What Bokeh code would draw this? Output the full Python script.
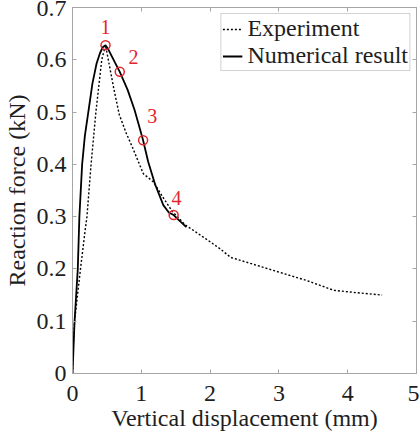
from bokeh.plotting import figure
from bokeh.models import Range1d, LinearAxis, FixedTicker
from bokeh.core.properties import value
from bokeh.embed import file_html
from bokeh.resources import INLINE

# Experiment (dotted)
exp_x = [0, 0.01, 0.03, 0.116, 0.184, 0.21, 0.27, 0.34, 0.425, 0.48, 0.60, 0.68, 0.78, 0.87, 1.03, 1.18, 1.30, 1.45, 1.64, 1.80, 2.0, 2.15, 2.3, 2.6, 3.0, 3.4, 3.8, 4.1, 4.5]
exp_y = [0, 0.05, 0.10, 0.20, 0.274, 0.30, 0.40, 0.50, 0.60, 0.628, 0.545, 0.495, 0.46, 0.433, 0.382, 0.366, 0.34, 0.31, 0.284, 0.270, 0.252, 0.238, 0.222, 0.21, 0.194, 0.178, 0.159, 0.155, 0.150]

# Numerical result (solid)
num_x = [0, 0.03, 0.077, 0.10, 0.14, 0.18, 0.23, 0.29, 0.35, 0.40, 0.44, 0.48, 0.52, 0.57, 0.62, 0.687, 0.80, 0.90, 0.96, 1.026, 1.10, 1.20, 1.32, 1.40, 1.47, 1.55, 1.655]
num_y = [0, 0.10, 0.20, 0.30, 0.40, 0.455, 0.50, 0.555, 0.593, 0.613, 0.624, 0.628, 0.620, 0.607, 0.594, 0.577, 0.543, 0.505, 0.477, 0.446, 0.405, 0.362, 0.322, 0.308, 0.303, 0.293, 0.280]

# Marked points
pt_x = [0.48, 0.687, 1.026, 1.47]
pt_y = [0.628, 0.577, 0.446, 0.303]
pt_lbl = ["1", "2", "3", "4"]
lbl_x = [0.48, 0.886, 1.16, 1.51]
lbl_y = [0.662, 0.605, 0.492, 0.336]

x_ticks = [0, 1, 2, 3, 4, 5]
y_ticks = [0, 0.1, 0.2, 0.3, 0.4, 0.5, 0.6, 0.7]
y_tick_labels = {0: "0", 0.1: "0.1", 0.2: "0.2", 0.3: "0.3", 0.4: "0.4", 0.5: "0.5", 0.6: "0.6", 0.7: "0.7"}

FONT = "Liberation Serif"
AX = "#a6a6a6"
TXT = "#1e1e1e"

p = figure(width=419, height=434, x_range=Range1d(0, 5), y_range=Range1d(0, 0.7),
           output_backend="svg", toolbar_location=None,
           min_border_left=72, min_border_right=3, min_border_top=7, min_border_bottom=61)
p.xgrid.visible = False
p.ygrid.visible = False
p.outline_line_color = AX
p.background_fill_color = "white"
p.border_fill_color = "white"

def style(ax, labels=True):
    ax.axis_line_color = AX
    ax.major_tick_line_color = AX
    ax.major_tick_in = 4
    ax.major_tick_out = 0
    ax.minor_tick_line_color = None
    if labels:
        ax.major_label_text_font = FONT
        ax.major_label_text_font_size = "24px"
        ax.major_label_text_color = TXT
        ax.axis_label_text_font = FONT
        ax.axis_label_text_font_size = "24px"
        ax.axis_label_text_font_style = "normal"
        ax.axis_label_text_color = TXT
    else:
        ax.major_label_standoff = 0

xa = p.xaxis[0]
xa.ticker = FixedTicker(ticks=x_ticks)
xa.axis_label = "Vertical displacement (mm)"
style(xa)
xa.major_label_standoff = 12
xa.axis_label_standoff = 1

ya = p.yaxis[0]
ya.ticker = FixedTicker(ticks=y_ticks)
ya.major_label_overrides = y_tick_labels
ya.axis_label = "Reaction force (kN)"
style(ya)
ya.major_label_standoff = 6
ya.axis_label_standoff = 4

top = LinearAxis(ticker=FixedTicker(ticks=x_ticks),
                 major_label_overrides={t: "" for t in x_ticks})
style(top, labels=False)
p.add_layout(top, "above")
right = LinearAxis(ticker=FixedTicker(ticks=y_ticks),
                   major_label_overrides={t: "" for t in y_ticks})
style(right, labels=False)
p.add_layout(right, "right")

p.line(exp_x, exp_y, line_color="black", line_width=1.4, line_dash="2 2", legend_label="Experiment")
p.line(num_x, num_y, line_color="black", line_width=1.8, legend_label="Numerical result")

p.scatter(pt_x, pt_y, marker="circle", size=9, fill_color=None, line_color="#e3262d", line_width=1.5)
p.text(lbl_x, lbl_y, text=pt_lbl, text_font=value(FONT), text_font_size="20px",
       text_color="#e3262d", text_align="center", text_baseline="middle")

lg = p.legend[0]
lg.location = "top_right"
lg.margin = 6
lg.padding = 1
lg.spacing = -6
lg.glyph_width = 20
lg.label_standoff = 5
lg.label_text_font = FONT
lg.label_text_font_size = "24px"
lg.label_text_color = TXT
lg.border_line_color = AX
lg.background_fill_alpha = 1.0

open("out.html", "w").write(file_html(p, INLINE))
